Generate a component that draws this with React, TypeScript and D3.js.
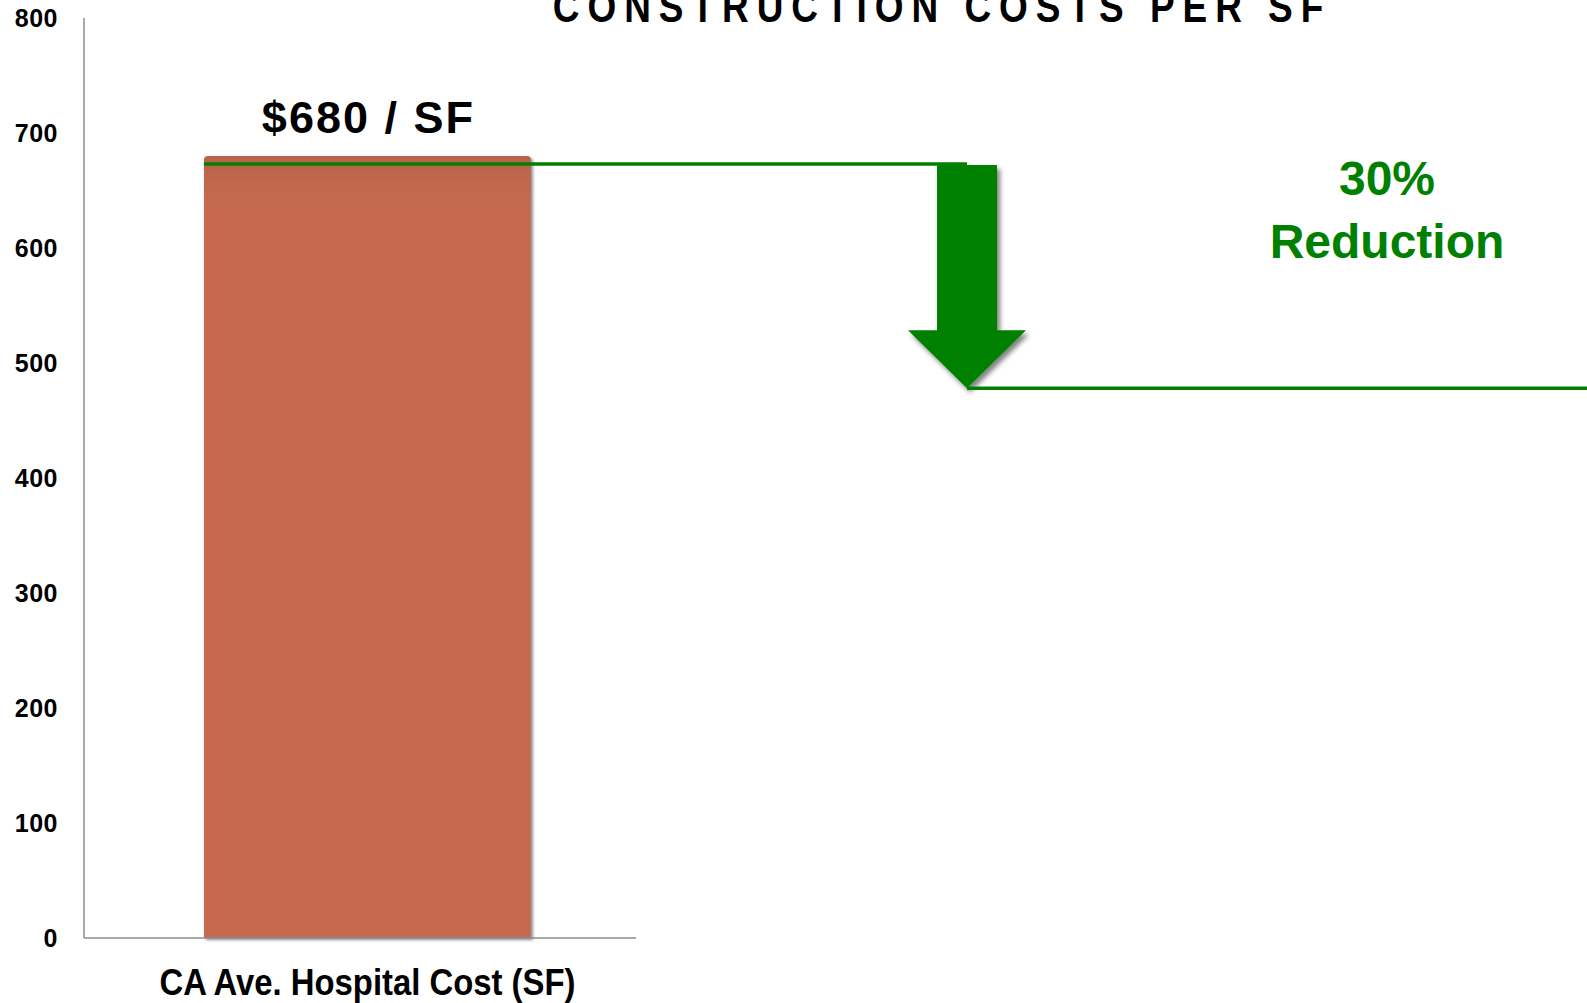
import React, { useEffect, useRef } from 'react';
import * as d3 from 'd3';

// chart data
const categories = ['CA Ave. Hospital Cost (SF)'];
const costs = [680];
const valueLabels = ['$680 / SF'];
const yTicks = [0, 100, 200, 300, 400, 500, 600, 700, 800];
const levels = [673, 478]; // before / after reduction lines
const reductionLabels = ['30%', 'Reduction'];
const title = 'CONSTRUCTION COSTS PER SF';

const W = 1587;
const H = 1003;
const GREEN = '#008000';

export default function App() {
  const ref = useRef<SVGSVGElement>(null);

  useEffect(() => {
    const svg = d3.select(ref.current);
    svg.selectAll('*').remove();

    const y = d3.scaleLinear().domain([0, 800]).range([938, 18]);
    const x = d3.scaleBand()
      .domain(categories)
      .range([84, 636])
      .paddingInner(0.256)
      .paddingOuter(0.256)
      .align(0.533);

    const defs = svg.append('defs');
    const grad = defs.append('linearGradient')
      .attr('id', 'barGrad')
      .attr('x1', 0).attr('y1', 0).attr('x2', 0).attr('y2', 1);
    grad.append('stop').attr('offset', '0%').attr('stop-color', '#bb624a');
    grad.append('stop').attr('offset', '6%').attr('stop-color', '#c56a50');
    grad.append('stop').attr('offset', '100%').attr('stop-color', '#c56a50');

    defs.append('filter').attr('id', 'barShadow')
      .attr('x', '-5%').attr('y', '-5%').attr('width', '115%').attr('height', '115%')
      .append('feDropShadow')
      .attr('dx', 2).attr('dy', 2).attr('stdDeviation', 1.5)
      .attr('flood-color', '#000').attr('flood-opacity', 0.45);

    defs.append('filter').attr('id', 'arrowShadow')
      .attr('x', '-20%').attr('y', '-10%').attr('width', '150%').attr('height', '130%')
      .append('feDropShadow')
      .attr('dx', 3).attr('dy', 4).attr('stdDeviation', 2.5)
      .attr('flood-color', '#000').attr('flood-opacity', 0.5);

    // title, cut at the top edge like the slide
    svg.append('text')
      .attr('transform', `translate(942, 22) scale(0.84, 1)`)
      .attr('text-anchor', 'middle')
      .attr('font-family', 'Liberation Sans, Arial, sans-serif')
      .attr('font-weight', 'bold')
      .attr('font-size', 44)
      .attr('letter-spacing', 9.5)
      .attr('fill', '#000')
      .text(title);

    // y tick labels (no tick marks)
    svg.selectAll('.ytick')
      .data(yTicks)
      .enter()
      .append('text')
      .attr('class', 'ytick')
      .attr('x', 58)
      .attr('y', (d) => y(d))
      .attr('dy', '0.36em')
      .attr('text-anchor', 'end')
      .attr('font-family', 'Liberation Sans, Arial, sans-serif')
      .attr('font-weight', 'bold')
      .attr('font-size', 25)
      .attr('letter-spacing', 0.5)
      .attr('fill', '#000')
      .text((d) => d);

    // bar
    svg.selectAll('.bar')
      .data(costs)
      .enter()
      .append('path')
      .attr('class', 'bar')
      .attr('filter', 'url(#barShadow)')
      .attr('fill', 'url(#barGrad)')
      .attr('d', (d, i) => {
        const x0 = x(categories[i]) as number;
        const x1 = x0 + x.bandwidth();
        const y0 = y(0);
        const y1 = y(d);
        const r = 4;
        return `M${x0},${y0}L${x0},${y1 + r}Q${x0},${y1} ${x0 + r},${y1}L${x1 - r},${y1}Q${x1},${y1} ${x1},${y1 + r}L${x1},${y0}Z`;
      });

    // axes lines
    svg.append('line')
      .attr('x1', 84).attr('x2', 84)
      .attr('y1', y(800)).attr('y2', y(0))
      .attr('stroke', '#8c8c8c').attr('stroke-width', 1.5);
    svg.append('line')
      .attr('x1', 84).attr('x2', 636)
      .attr('y1', y(0)).attr('y2', y(0))
      .attr('stroke', '#8c8c8c').attr('stroke-width', 1.5);

    // category label
    svg.selectAll('.cat')
      .data(categories)
      .enter()
      .append('text')
      .attr('class', 'cat')
      .attr('x', (d) => (x(d) as number) + x.bandwidth() / 2)
      .attr('y', 995)
      .attr('text-anchor', 'middle')
      .attr('font-family', 'Liberation Sans, Arial, sans-serif')
      .attr('font-weight', 'bold')
      .attr('font-size', 36)
      .attr('textLength', 416)
      .attr('lengthAdjust', 'spacingAndGlyphs')
      .attr('fill', '#000')
      .text((d) => d);

    // value label
    svg.selectAll('.val')
      .data(costs)
      .enter()
      .append('text')
      .attr('class', 'val')
      .attr('x', (d, i) => (x(categories[i]) as number) + x.bandwidth() / 2 + 1)
      .attr('y', (d) => y(d) - 23)
      .attr('text-anchor', 'middle')
      .attr('font-family', 'Liberation Sans, Arial, sans-serif')
      .attr('font-weight', 'bold')
      .attr('font-size', 45)
      .attr('letter-spacing', 2)
      .attr('fill', '#000')
      .text((d, i) => valueLabels[i]);

    // reduction arrow
    const ax = 967;
    const barLeft = x(categories[0]) as number;
    const yTop = y(levels[0]);
    const yBot = y(levels[1]);
    const shaftHalf = 30;
    const headHalf = 59;
    const headH = 58;
    svg.append('path')
      .attr('filter', 'url(#arrowShadow)')
      .attr('fill', GREEN)
      .attr('d', `M${ax - shaftHalf},${yTop + 1}L${ax + shaftHalf},${yTop + 1}L${ax + shaftHalf},${yBot - headH}L${ax + headHalf},${yBot - headH}L${ax},${yBot}L${ax - headHalf},${yBot - headH}L${ax - shaftHalf},${yBot - headH}Z`);

    // level lines
    svg.append('line')
      .attr('x1', barLeft).attr('x2', ax)
      .attr('y1', yTop).attr('y2', yTop)
      .attr('stroke', GREEN).attr('stroke-width', 3.5);
    svg.append('line')
      .attr('x1', ax).attr('x2', W)
      .attr('y1', yBot).attr('y2', yBot)
      .attr('stroke', GREEN).attr('stroke-width', 3.5);

    // reduction text
    svg.selectAll('.red')
      .data(reductionLabels)
      .enter()
      .append('text')
      .attr('class', 'red')
      .attr('x', 1387)
      .attr('y', (d, i) => 195 + i * 63)
      .attr('text-anchor', 'middle')
      .attr('font-family', 'Liberation Sans, Arial, sans-serif')
      .attr('font-weight', 'bold')
      .attr('font-size', 48)
      .attr('fill', GREEN)
      .text((d) => d);
  }, []);

  return (
    <svg
      ref={ref}
      width={W}
      height={H}
      style={{ position: 'absolute', left: 0, top: 0, background: '#fff' }}
    />
  );
}
